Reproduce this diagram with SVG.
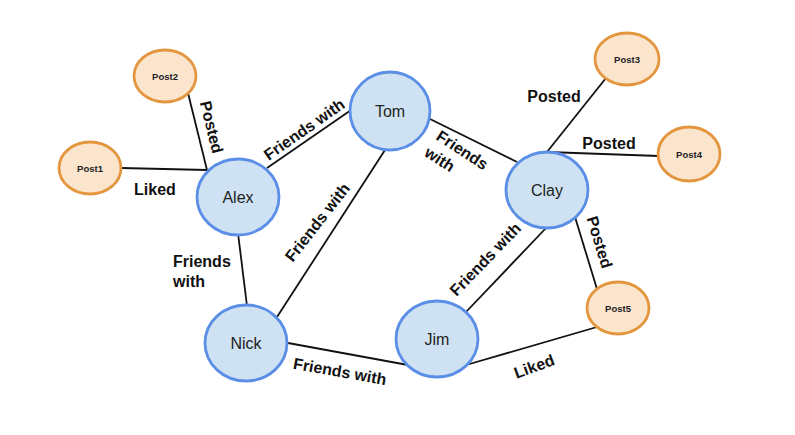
<svg xmlns="http://www.w3.org/2000/svg" width="795" height="435" viewBox="0 0 795 435">
<style>
.person ellipse{fill:#cfe2f3;stroke:#5b8ee6;stroke-width:2.8}
.post ellipse{fill:#fce5cd;stroke:#e3963e;stroke-width:2.8}
.person text{font-family:"Liberation Sans",Arial,sans-serif;font-size:16px;fill:#222;text-anchor:middle}
.post text{font-family:"Liberation Sans",Arial,sans-serif;font-size:9.5px;font-weight:bold;fill:#222;text-anchor:middle}
#edges line{stroke:#111;stroke-width:1.8}
.lbl{font-family:"Liberation Sans",Arial,sans-serif;font-size:16px;font-weight:bold;fill:#111}
.c{text-anchor:middle}
</style>
<rect width="795" height="435" fill="#fff"/>
<g id="edges">
<line x1="121" y1="168" x2="207" y2="170"/>
<line x1="188" y1="93" x2="207" y2="170"/>
<line x1="267" y1="168" x2="354" y2="108"/>
<line x1="238" y1="233" x2="247" y2="306"/>
<line x1="277" y1="317" x2="385" y2="150"/>
<line x1="428" y1="118" x2="517" y2="162"/>
<line x1="547" y1="152" x2="606" y2="78"/>
<line x1="547" y1="152" x2="659" y2="156"/>
<line x1="547" y1="227" x2="466" y2="312"/>
<line x1="575" y1="217" x2="597" y2="289"/>
<line x1="288" y1="343" x2="408" y2="365"/>
<line x1="466" y1="365" x2="597" y2="327"/>
</g>
<g id="labels">
<text class="lbl c" transform="translate(212,127) rotate(76)" y="6">Posted</text>
<text class="lbl c" x="155" y="195">Liked</text>
<text class="lbl c" transform="translate(304,129) rotate(-35)" y="6">Friends with</text>
<text class="lbl c" transform="translate(317,222) rotate(-52)" y="6">Friends with</text>
<text class="lbl" x="173" y="267">Friends</text>
<text class="lbl" x="173" y="287">with</text>
<g transform="translate(435,139) rotate(33)"><text class="lbl" x="0" y="0">Friends</text><text class="lbl" x="-1" y="20">with</text></g>
<text class="lbl c" x="554" y="102">Posted</text>
<text class="lbl c" x="609" y="149">Posted</text>
<text class="lbl c" transform="translate(600,242) rotate(73)" y="6">Posted</text>
<text class="lbl c" transform="translate(485,259) rotate(-46)" y="6">Friends with</text>
<text class="lbl c" transform="translate(340,371) rotate(10)" y="6">Friends with</text>
<text class="lbl c" transform="translate(534,366) rotate(-20)" y="6">Liked</text>
</g>
<g id="post1" class="post"><ellipse cx="90" cy="168" rx="31" ry="26"/><text x="90" y="172">Post1</text></g>
<g id="post2" class="post"><ellipse cx="165" cy="76" rx="31" ry="26"/><text x="165" y="80">Post2</text></g>
<g id="post3" class="post"><ellipse cx="627" cy="59" rx="32" ry="26"/><text x="627" y="63">Post3</text></g>
<g id="post4" class="post"><ellipse cx="689" cy="154" rx="31" ry="27"/><text x="689" y="158">Post4</text></g>
<g id="post5" class="post"><ellipse cx="618" cy="308" rx="31" ry="26"/><text x="618" y="312">Post5</text></g>
<g id="alex" class="person"><ellipse cx="238" cy="197" rx="41" ry="38"/><text x="238" y="203">Alex</text></g>
<g id="tom" class="person"><ellipse cx="390" cy="111" rx="40" ry="39"/><text x="390" y="117">Tom</text></g>
<g id="clay" class="person"><ellipse cx="547" cy="190" rx="41" ry="38"/><text x="547" y="196">Clay</text></g>
<g id="nick" class="person"><ellipse cx="246" cy="343" rx="41" ry="38"/><text x="246" y="349">Nick</text></g>
<g id="jim" class="person"><ellipse cx="437" cy="339" rx="41" ry="38"/><text x="437" y="345">Jim</text></g>
</svg>
